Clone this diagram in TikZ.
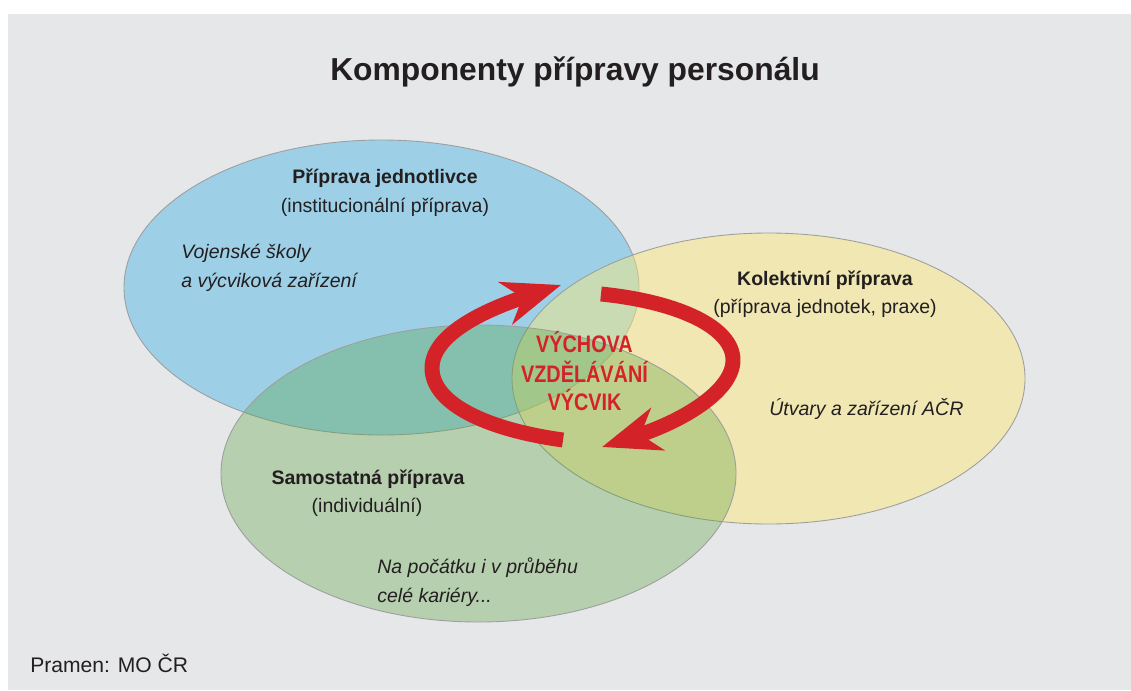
\documentclass[tikz,border=0pt]{standalone}
\usepackage{fontspec}
\setmainfont{Liberation Sans}
\newfontfamily\narrowsans[FakeStretch=0.83]{Liberation Sans}
\usepackage{xcolor}
\usetikzlibrary{arrows.meta,positioning}
\definecolor{panel}{HTML}{E6E7E9}
\definecolor{zblue}{RGB}{157,208,231}
\definecolor{zyellow}{RGB}{254,233,115}
\definecolor{zgreen}{RGB}{83,159,55}
\definecolor{cycred}{HTML}{D42229}
\definecolor{ink}{HTML}{231F20}

\begin{document}
\begin{tikzpicture}[
  x=0.02cm,y=-0.02cm,
  zone/.style={draw=black!38,line width=0.5pt},
  head/.style={anchor=base,inner sep=0pt,text=ink,
               font=\fontsize{11.1}{13}\selectfont\bfseries},
  sub/.style={anchor=base,inner sep=0pt,text=ink,
              font=\fontsize{11.1}{13}\selectfont},
  note/.style={anchor=base west,inner sep=0pt,text=ink,
               font=\fontsize{11.1}{13}\selectfont\itshape},
  core/.style={anchor=base,inner sep=0pt,text=cycred,
               font=\narrowsans\fontsize{13.6}{16}\selectfont\bfseries},
  cyc/.style={line width=8.5pt,draw=cycred,
              -{Stealth[length=33pt,width=25pt,inset=10pt]}}
]
\useasboundingbox (0,0) rectangle (1131,690);
\fill[white] (0,0) rectangle (1131,690);
\fill[panel] (8,14) rectangle (1131,690);

% tri zony
\filldraw[zone,fill=zblue] (381.5,287.5) ellipse (257.5 and 147.5);
\filldraw[zone,fill=zyellow,fill opacity=0.45] (768.5,378.5) ellipse (256.5 and 145.5);
\filldraw[zone,fill=zgreen,fill opacity=0.32] (478.5,473.5) ellipse (257.5 and 148.5);

% nadpis
\node[anchor=base,inner sep=0pt,text=ink,
      font=\fontsize{18.1}{22}\selectfont\bfseries] (title) at (575,80)
      {Komponenty přípravy personálu};

% popisky zon
\node[head] (indH) at (385,183) {Příprava jednotlivce};
\node[sub]  (indS) at (385,212) {(institucionální příprava)};
\node[note] (indN1) at (181,258) {Vojenské školy};
\node[note] (indN2) at (181,287) {a výcviková zařízení};

\node[head] (kolH) at (825,285) {Kolektivní příprava};
\node[sub]  (kolS) at (825,313) {(příprava jednotek, praxe)};
\node[note] (kolN) at (769,415) {Útvary a zařízení AČR};

\node[head] (samH) at (368,484) {Samostatná příprava};
\node[sub]  (samS) at (367,512) {(individuální)};
\node[note] (samN1) at (377,573) {Na počátku i v průběhu};
\node[note] (samN2) at (377,602) {celé kariéry...};

% cyklus
\coordinate (lt) at (563,440);
\coordinate (lw) at (432,368);
\coordinate (lh) at (561,285);
\coordinate (rt) at (601,294);
\coordinate (re) at (733,360);
\coordinate (rh) at (602,447);
\draw[cyc] (lt) .. controls (490,430) and (432,405) .. (lw)
                .. controls (432,330) and (500,305) .. (lh);
\draw[cyc] (rt) .. controls (680,302) and (733,328) .. (re)
                .. controls (733,392) and (680,422) .. (rh);

\node[core] (c1) at (584.5,352) {VÝCHOVA};
\node[core] (c2) at (584.5,382) {VZDĚLÁVÁNÍ};
\node[core] (c3) at (584.5,410) {VÝCVIK};

\node[anchor=base west,inner sep=0pt,text=ink,
      font=\fontsize{12}{14}\selectfont] (src) at (30,672) {Pramen: MO ČR};
\end{tikzpicture}
\end{document}
